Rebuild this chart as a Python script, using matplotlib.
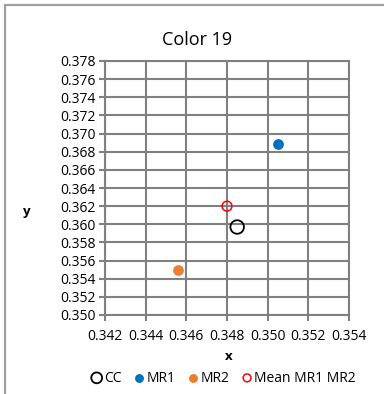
import matplotlib
matplotlib.use('Agg')
from matplotlib import pyplot as plt
from matplotlib.patches import Rectangle

# data
cc_x, cc_y = [0.3485], [0.3597]
mr1_x, mr1_y = [0.3505], [0.3689]
mr2_x, mr2_y = [0.3456], [0.3550]
mean_x, mean_y = [0.3480], [0.3620]

x_ticks = [0.342, 0.344, 0.346, 0.348, 0.350, 0.352, 0.354]
y_ticks = [0.350, 0.352, 0.354, 0.356, 0.358, 0.360, 0.362, 0.364,
           0.366, 0.368, 0.370, 0.372, 0.374, 0.376, 0.378]

plt.rcParams['font.family'] = ['Open Sans', 'DejaVu Sans']

fig = plt.figure(figsize=(3.84, 3.94), dpi=100)
W, H = 384, 394

# outer chart border (cut off at right/bottom like the screenshot)
fig.patches.append(Rectangle((5 / W, -0.1), 1.2, 1 - 5 / H + 0.1, transform=fig.transFigure,
                             fill=False, edgecolor='#a0a0a0', linewidth=1.6))

ax = fig.add_axes([105 / W, 1 - 315 / H, 244 / W, 254 / H])
grid_c = '#808080'

ax.scatter(cc_x, cc_y, s=95, facecolors='none', edgecolors='black', linewidths=1.3, zorder=3, label='CC')
ax.scatter(mr1_x, mr1_y, s=45, color='#0070c0', zorder=3, label='MR1')
ax.scatter(mr2_x, mr2_y, s=45, color='#ed7d31', zorder=3, label='MR2')
ax.scatter(mean_x, mean_y, s=50, facecolors='none', edgecolors='#ff0000', linewidths=1.1, zorder=3,
           label='Mean MR1 MR2')

ax.set_xlim(x_ticks[0], x_ticks[-1])
ax.set_ylim(y_ticks[0], y_ticks[-1])
ax.set_xticks(x_ticks)
ax.set_yticks(y_ticks)
ax.set_xticklabels(['%.3f' % v for v in x_ticks])
ax.set_yticklabels(['%.3f' % v for v in y_ticks])
ax.grid(True, color=grid_c, linewidth=1.5)
ax.set_axisbelow(True)
for s in ax.spines.values():
    s.set_color(grid_c)
    s.set_linewidth(1.5)
ax.tick_params(axis='both', direction='out', length=4, width=1.5, color=grid_c,
               labelsize=10, pad=3)
ax.tick_params(axis='x', pad=6)

fig.text(197 / W, 1 - 40 / H, 'Color 19', ha='center', va='center', fontsize=13)
fig.text(27 / W, 1 - 211 / H, 'y', ha='center', va='center', fontsize=9.5, fontweight='bold')
fig.text(229 / W, 1 - 357 / H, 'x', ha='center', va='center', fontsize=9.5, fontweight='bold')

fig.legend(loc='center', bbox_to_anchor=(222 / W, 1 - 378 / H), ncol=4, frameon=False,
           fontsize=10, handletextpad=-0.1, columnspacing=0.7, markerscale=0.8,
           borderpad=0, handlelength=1.2)

fig.savefig('out.png', dpi=100, facecolor='white')
